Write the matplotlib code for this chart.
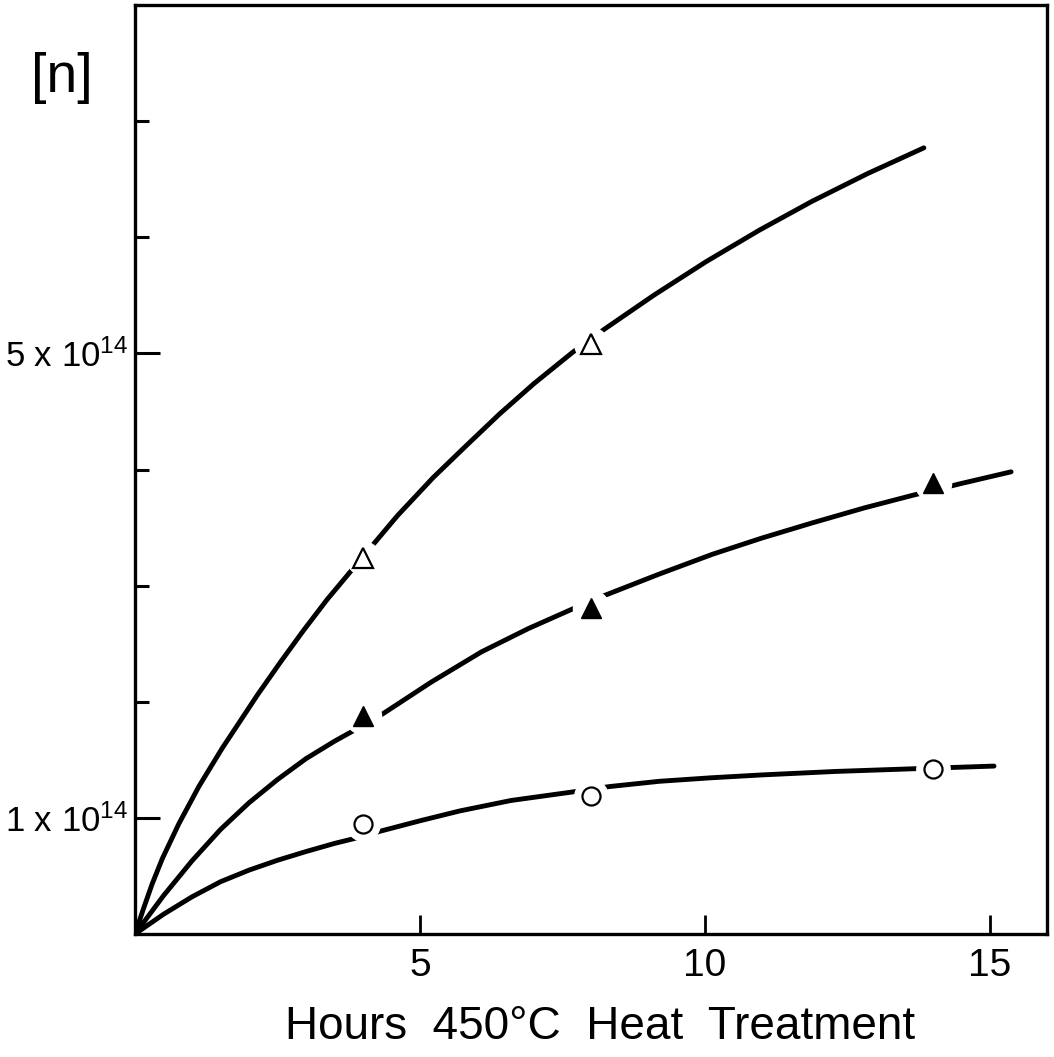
import matplotlib
matplotlib.use("Agg")
import matplotlib.pyplot as plt

plt.rcParams['font.family'] = ['Liberation Sans', 'DejaVu Sans']
plt.rcParams['mathtext.fontset'] = 'custom'
plt.rcParams['mathtext.rm'] = 'Liberation Sans'
plt.rcParams['mathtext.default'] = 'regular'

# measured points (hours, n in units of 1e14)
hours = [4, 8, 14]
open_tri = [3.24, 5.08]          # only two points on the top curve
filled_tri = [1.88, 2.81, 3.88]
open_circ = [0.947, 1.186, 1.42]

# hand drawn curves
top_x = [0, 0.15, 0.3, 0.48, 0.77, 1.12, 1.53, 1.80, 2.15, 2.55, 2.95, 3.37, 4.0,
         4.6, 5.23, 5.8, 6.40, 7.0, 7.68, 8.24, 9.1, 10.02, 10.95, 11.88, 12.86, 13.84]
top_y = [0, 0.22, 0.43, 0.65, 0.95, 1.27, 1.60, 1.80, 2.06, 2.34, 2.61, 2.88, 3.25,
         3.60, 3.93, 4.20, 4.48, 4.74, 5.01, 5.21, 5.50, 5.79, 6.06, 6.31, 6.55, 6.77]

mid_x = [0, 0.5, 1.0, 1.5, 2.0, 2.5, 3.0, 3.5, 3.83, 4.36, 5.2, 6.08, 6.9, 7.68, 8.21,
         9.2, 10.13, 11.0, 11.88, 12.8, 13.66, 14.5, 15.37]
mid_y = [0, 0.33, 0.63, 0.90, 1.13, 1.33, 1.51, 1.66, 1.75, 1.90, 2.17, 2.43, 2.63,
         2.80, 2.91, 3.10, 3.27, 3.41, 3.54, 3.67, 3.78, 3.88, 3.98]

low_x = [0, 0.5, 1.0, 1.5, 2.0, 2.5, 3.0, 3.5, 3.83, 4.30, 5.0, 5.70, 6.6, 7.63, 8.33,
         9.2, 10.1, 11.0, 12.3, 13.72, 15.07]
low_y = [0, 0.17, 0.32, 0.45, 0.55, 0.635, 0.71, 0.78, 0.82, 0.885, 0.975, 1.06, 1.15,
         1.22, 1.27, 1.315, 1.345, 1.37, 1.40, 1.424, 1.446]

fig = plt.figure(figsize=(10.54, 10.57), dpi=100)
ax = fig.add_axes([135/1054, 1 - 934/1057, (1047-135)/1054, (934-5)/1057])

lw = 3.5
for cx, cy in [(top_x, top_y), (mid_x, mid_y), (low_x, low_y)]:
    ax.plot(cx, cy, color='black', lw=lw, solid_capstyle='round',
            solid_joinstyle='round', zorder=2)

# white patches so the curve breaks around each point
ax.plot(hours[:2], open_tri, 'o', ms=24, color='white', zorder=3)
ax.plot(hours, filled_tri, 'o', ms=26, color='white', zorder=3)
ax.plot(hours, open_circ, 'o', ms=24, color='white', zorder=3)

ax.plot(hours[:2], open_tri, '^', ms=15, mfc='white', mec='black', mew=1.6, zorder=4)
ax.plot(hours, filled_tri, '^', ms=15, mfc='black', mec='black', mew=1, zorder=4)
ax.plot(hours, open_circ, 'o', ms=13, mfc='white', mec='black', mew=1.6, zorder=4)

ax.set_xlim(0, 16)
ax.set_ylim(0, 8)

ax.set_xticks([5, 10, 15])
ax.set_xticklabels(['5', '10', '15'])
ax.set_yticks([1, 5])
ax.set_yticklabels(['1 x 10$^{14}$', '5 x 10$^{14}$'])
ax.set_yticks([2, 3, 4, 6, 7], minor=True)

ax.tick_params(axis='x', direction='in', length=14, width=2, labelsize=28, pad=10)
ax.tick_params(axis='y', which='major', direction='in', length=18, width=2.2, labelsize=25, pad=5)
ax.tick_params(axis='y', which='minor', direction='in', length=10, width=2.2)
ax.tick_params(axis='x', which='minor', bottom=False)

for s in ax.spines.values():
    s.set_linewidth(2.4)

fig.text(600/1054, 1 - 1027/1057, 'Hours  450°C  Heat  Treatment', fontsize=33,
         ha='center', va='center')
fig.text(62/1054, 1 - 78/1057, '[n]', fontsize=40, ha='center', va='center')

fig.savefig('out.png', dpi=100)
